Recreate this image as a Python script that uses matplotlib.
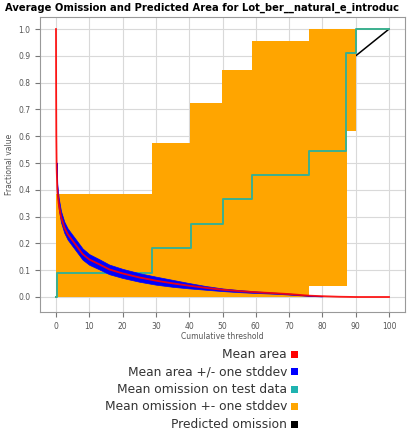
import matplotlib
matplotlib.use("Agg")
import matplotlib.pyplot as plt
import numpy as np
from matplotlib.patches import Rectangle

# mean area (fraction of area predicted present) vs cumulative threshold
area_x = [0, 0.05, 0.1, 0.2, 0.4, 0.8, 1.5, 2.5, 3.5, 5.6, 8, 10, 13, 16, 20, 25, 30,
          35, 40, 45, 50, 55, 60, 66, 70, 76, 80, 85, 90, 100]
area_mean = [1.0, 0.75, 0.6, 0.48, 0.4, 0.35, 0.3, 0.26, 0.235, 0.2, 0.16, 0.14, 0.122,
             0.103, 0.088, 0.073, 0.061, 0.051, 0.042, 0.034, 0.027, 0.022, 0.018, 0.014,
             0.011, 0.005, 0.003, 0.001, 0.0, 0.0]
area_sd = [0, 0, 0, 0.022, 0.022, 0.021, 0.021, 0.021, 0.021, 0.021, 0.021, 0.02, 0.019,
           0.018, 0.017, 0.016, 0.015, 0.013, 0.01, 0.007, 0.005, 0.004, 0.003, 0.002,
           0.002, 0.001, 0.001, 0.0, 0.0, 0.0]

# mean omission on test data (step function)
om_x = [0, 0.3, 28.8, 40.5, 50.0, 59.0, 76.0, 87.0, 90.0, 100]
om_mean = [0, 0.091, 0.182, 0.273, 0.364, 0.455, 0.545, 0.909, 1.0, 1.0]

# mean omission +/- one stddev (step edges)
band_x = [0, 28.8, 40.2, 49.8, 59.0, 76.0, 87.4, 90.0]
band_hi = [0.384, 0.575, 0.724, 0.847, 0.956, 1.0, 1.0, 1.0]
band_lo = [0.0, 0.0, 0.0, 0.0, 0.0, 0.04, 0.62, 0.62]

# predicted omission
pred_x = [0, 100]
pred_y = [0, 1]

legend_labels = ["Mean area", "Mean area +/- one stddev", "Mean omission on test data",
                 "Mean omission +- one stddev", "Predicted omission"]
legend_colors = ["#ff0000", "#0000ff", "#1fb3b0", "#ffa500", "#000000"]

W, H = 408, 436
fig = plt.figure(figsize=(W / 100, H / 100), dpi=100)
ax = fig.add_axes([40 / W, 1 - 312 / H, 365 / W, 295 / H])

ax.plot(pred_x, pred_y, color="black", lw=1.1, zorder=1)
ax.fill_between(band_x, band_lo, band_hi, step="post", color="#ffa500", lw=0, zorder=2)
ax.step(om_x, om_mean, where="post", color="#3bb08f", lw=1.4, zorder=3)

xa = np.array(area_x)
am = np.array(area_mean)
sd = np.array(area_sd)
ax.fill_between(xa, am - sd, am + sd, where=sd > 0, color="#0000ff", lw=0.5,
                edgecolor="#0000ff", zorder=4)
ax.plot(xa, am, color="#ff0000", lw=1.3, alpha=0.9, zorder=5)

ax.set_xlim(-4.8, 104.8)
ax.set_ylim(-0.056, 1.045)
ax.set_xticks(np.arange(0, 101, 10))
ax.set_yticks(np.arange(0, 1.01, 0.1))
ax.set_yticklabels([f"{v:.1f}" for v in np.arange(0, 1.01, 0.1)])
ax.grid(True, color="#d9d9d9", lw=0.8, zorder=0)
ax.set_axisbelow(True)
ax.tick_params(labelsize=5.5, labelcolor="#555555", color="#777777", length=3.5, width=0.8)
for s in ax.spines.values():
    s.set_color("#999999")
    s.set_linewidth(0.8)

ax.set_xlabel("Cumulative threshold", fontsize=5.5, color="#555555", labelpad=1)
ax.set_ylabel("Fractional value", fontsize=5.5, color="#555555", labelpad=3)

fig.text(5 / W, 1 - 8 / H, "Average Omission and Predicted Area for Lot_ber__natural_e_introduc",
         fontsize=7.2, fontweight="bold", ha="left", va="center")

row_y = [354, 371.5, 389, 406.5, 424]
for lab, col, yy in zip(legend_labels, legend_colors, row_y):
    fig.text(287 / W, 1 - yy / H, lab, fontsize=8.8, color="#333333", ha="right", va="center")
    fig.add_artist(Rectangle((291 / W, 1 - (yy + 3.5) / H), 7 / W, 7 / H,
                             transform=fig.transFigure, color=col, lw=0))

fig.savefig("out.png", dpi=100)
